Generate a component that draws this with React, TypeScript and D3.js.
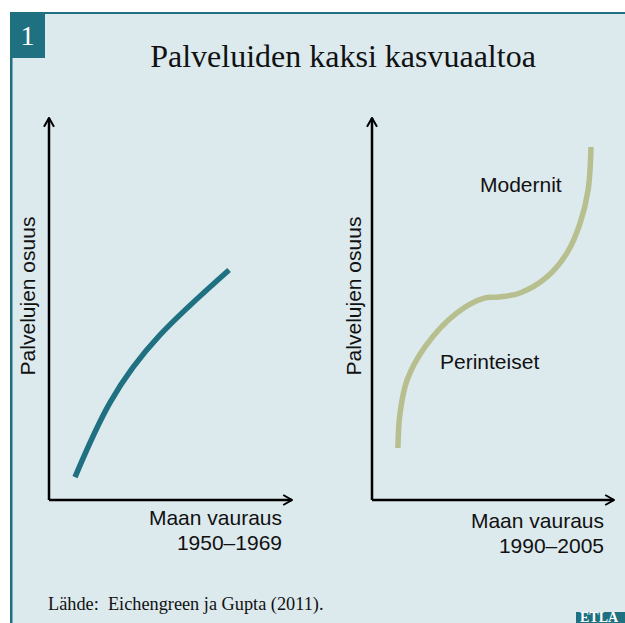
import * as d3 from "d3";
import { useEffect, useRef } from "react";

// chart values (axes are unitless, 0–100)
const leftWealth = [10.7, 25.1, 45.7, 74.1];
const leftShare = [6.0, 25.5, 43.2, 60.2];
const rightWealth = [10.7, 11.6, 14.5, 21.9, 35.1, 46.7, 51.7, 61.2, 72.3, 80.6, 86.0, 89.3, 90.5];
const rightShare = [13.6, 22.8, 31.4, 40.1, 49.0, 52.9, 53.1, 54.2, 58.4, 64.7, 72.5, 81.2, 92.4];

const title = "Palveluiden kaksi kasvuaaltoa";
const yLabel = "Palvelujen osuus";
const xLabel = "Maan vauraus";
const periods = ["1950–1969", "1990–2005"];
const seriesLabels = ["Modernit", "Perinteiset"];
const source = "Lähde:  Eichengreen ja Gupta (2011).";

const TEAL = "#1f7181";
const OLIVE = "#b7bf8f";
const BG = "#dce9ed";

const App = () => {
  const ref = useRef<SVGSVGElement>(null);

  useEffect(() => {
    draw();
  }, []);

  const draw = () => {
    const width = 625,
      height = 623;
    const svg = d3.select(ref.current);
    svg.selectAll("*").remove();

    // frame
    svg.append("rect").attr("x", 10).attr("y", 12).attr("width", width - 10).attr("height", height - 12).attr("fill", BG);
    svg.append("rect").attr("x", 10).attr("y", 12).attr("width", width - 10).attr("height", 2).attr("fill", TEAL);
    svg.append("rect").attr("x", 10).attr("y", 12).attr("width", 2.5).attr("height", height - 12).attr("fill", TEAL);

    // number badge
    svg.append("rect").attr("x", 10).attr("y", 12).attr("width", 35).attr("height", 46).attr("fill", TEAL);
    svg.append("text").attr("x", 27.5).attr("y", 45).attr("text-anchor", "middle")
      .attr("font-family", "Liberation Serif").attr("font-size", 28).attr("fill", "#fff").text("1");

    svg.append("text").attr("x", 343).attr("y", 67).attr("text-anchor", "middle")
      .attr("font-family", "Liberation Serif").attr("font-size", 32).attr("fill", "#111").text(title);

    // arrow marker
    const defs = svg.append("defs");
    defs.append("marker").attr("id", "arr").attr("viewBox", "0 0 10 10").attr("refX", 9).attr("refY", 5)
      .attr("markerWidth", 5).attr("markerHeight", 5).attr("markerUnits", "strokeWidth").attr("orient", "auto")
      .append("path").attr("d", "M2,1 L9,5 L2,9").attr("fill", "none").attr("stroke", "#000").attr("stroke-width", 1.6);

    const panels = [
      { x0: 49, x1: 292, wealth: leftWealth, share: leftShare, color: TEAL, period: periods[0], lx: 35, dy: 0, curve: d3.curveNatural },
      { x0: 372, x1: 614, wealth: rightWealth, share: rightShare, color: OLIVE, period: periods[1], lx: 361, dy: 3, curve: d3.curveCatmullRom.alpha(0.5) },
    ];

    panels.forEach((p) => {
      const x = d3.scaleLinear().domain([0, 100]).range([p.x0, p.x1]);
      const y = d3.scaleLinear().domain([0, 100]).range([500, 118]);
      const g = svg.append("g");

      g.append("path")
        .attr("d", `M${x(0)},${y(0)} L${x(100)},${y(0)}`)
        .attr("stroke", "#000").attr("stroke-width", 2.5).attr("fill", "none").attr("marker-end", "url(#arr)");
      g.append("path")
        .attr("d", `M${x(0)},${y(0)} L${x(0)},${y(100)}`)
        .attr("stroke", "#000").attr("stroke-width", 2.5).attr("fill", "none").attr("marker-end", "url(#arr)");

      const pts = p.wealth.map((w, i) => [w, p.share[i]] as [number, number]);
      const line = d3.line<[number, number]>().x((d) => x(d[0])).y((d) => y(d[1])).curve(p.curve);
      g.append("path").attr("d", line(pts)).attr("fill", "none").attr("stroke", p.color).attr("stroke-width", 5.5);

      g.append("text").attr("transform", `translate(${p.lx},296) rotate(-90)`).attr("text-anchor", "middle")
        .attr("font-family", "Liberation Sans").attr("font-size", 21).attr("fill", "#111").text(yLabel);

      g.append("text").attr("x", x(100) - 10).attr("y", 525 + p.dy).attr("text-anchor", "end")
        .attr("font-family", "Liberation Sans").attr("font-size", 21).attr("fill", "#111").text(xLabel);
      g.append("text").attr("x", x(100) - 10).attr("y", 550 + p.dy).attr("text-anchor", "end")
        .attr("font-family", "Liberation Sans").attr("font-size", 21).attr("fill", "#111").text(p.period);
    });

    svg.append("text").attr("x", 480).attr("y", 192).attr("font-family", "Liberation Sans").attr("font-size", 21)
      .attr("fill", "#111").text(seriesLabels[0]);
    svg.append("text").attr("x", 440).attr("y", 369).attr("font-family", "Liberation Sans").attr("font-size", 21)
      .attr("fill", "#111").text(seriesLabels[1]);

    svg.append("text").attr("x", 48).attr("y", 610).attr("font-family", "Liberation Serif").attr("font-size", 18.3)
      .attr("fill", "#111").style("white-space", "pre").text(source);

    // ETLA tag
    svg.append("rect").attr("x", 576).attr("y", 612).attr("width", 49).attr("height", 11).attr("fill", TEAL);
    svg.append("text").attr("x", 580).attr("y", 622).attr("font-family", "Liberation Serif").attr("font-weight", "bold")
      .attr("font-size", 14).attr("fill", "#fff").text("ETLA");
  };

  return (
    <svg ref={ref} width={625} height={623} style={{ position: "absolute", left: 0, top: 0, background: "#fff" }} />
  );
};

export default App;
